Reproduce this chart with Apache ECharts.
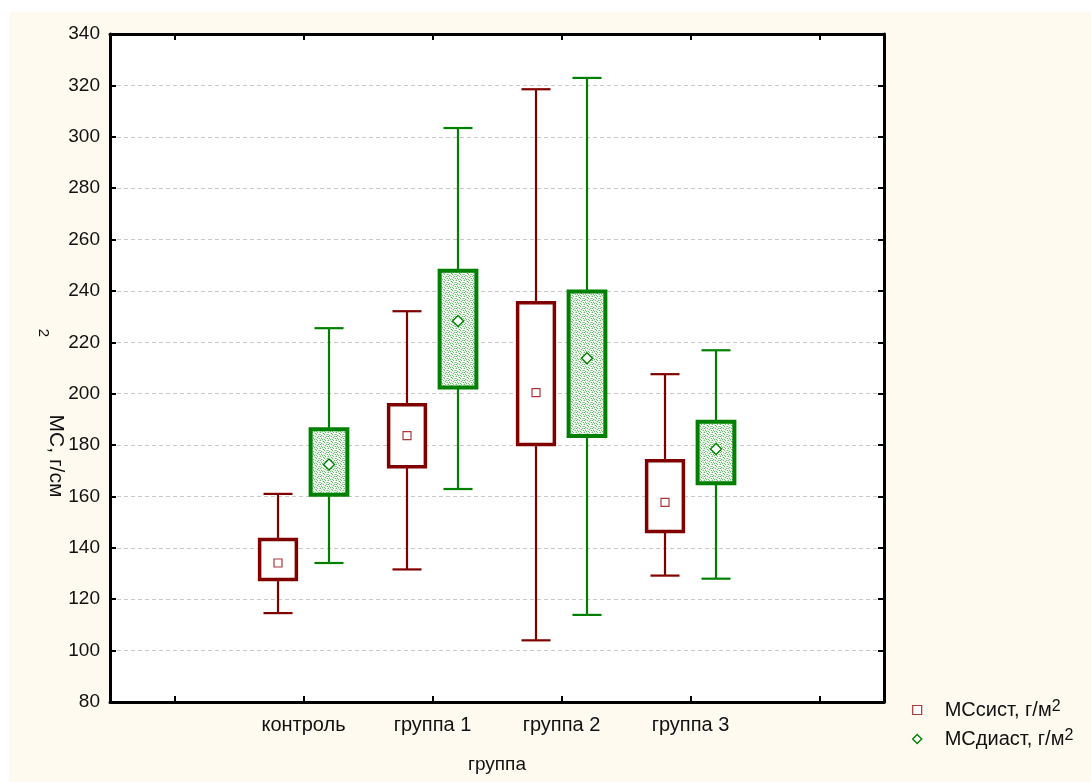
<!DOCTYPE html>
<html>
<head>
<meta charset="utf-8">
<script src="https://cdn.jsdelivr.net/npm/echarts@6/dist/echarts.min.js"></script>
<style>
  html, body { margin: 0; padding: 0; background: #ffffff; }
  #wrap { position: relative; width: 1091px; height: 782px; background: #ffffff; overflow: hidden; }
  #bg { position: absolute; left: 9px; top: 12px; right: 0; bottom: 0; background: #fffaf0; }
  #chart { position: absolute; left: 0; top: 0; width: 1091px; height: 782px; }
</style>
</head>
<body>
<div id="wrap"><div id="bg"></div><div id="chart"></div></div>
<script>
// Groups along the x axis
const groups = ['контроль', 'группа 1', 'группа 2', 'группа 3'];

// Each row: [lower whisker, box bottom, centre point, box top, upper whisker]
const msSyst = [
  [114.6, 127.7, 134.1, 143.2, 161.0],
  [131.6, 171.6, 183.7, 195.7, 232.1],
  [104.0, 180.2, 200.4, 235.4, 318.5],
  [129.2, 146.4, 157.7, 173.9, 207.6]
];
const msDiast = [
  [134.1, 160.7, 172.4, 186.2, 225.5],
  [162.9, 202.4, 228.3, 247.9, 303.4],
  [113.9, 183.5, 213.8, 239.8, 322.9],
  [128.0, 165.1, 178.5, 189.1, 216.9]
];

const seriesNames = ['МСсист, г/м', 'МСдиаст, г/м'];
const yTicks = { min: 80, max: 340, step: 20 };

const FONT = '"Liberation Sans", Arial, sans-serif';
const RED = '#800000';
const GREEN = '#008000';

// Axis categories: an empty slot on each side of the four groups
const axisCats = [''].concat(groups, ['']);

// Stippled light-green fill for the diastolic boxes
function makeDither() {
  const tile = [
    'GWLWWGWL',
    'WLWGLWWW',
    'LWWWGWLG',
    'WGLWWLWW',
    'GWWGWWGL',
    'WLWWLGWW',
    'WGWLWWLG',
    'LWGWGWWW'
  ];
  const cols = { G: '#6cbb6c', L: '#bde0bd', W: '#f7fbf7' };
  const c = document.createElement('canvas');
  c.width = 8; c.height = 8;
  const ctx = c.getContext('2d');
  tile.forEach((row, y) => row.split('').forEach((k, x) => { ctx.fillStyle = cols[k]; ctx.fillRect(x, y, 1, 1); }));
  return c;
}
const dither = makeDither();

function toItems(rows) {
  return rows.map((r, i) => [i + 1].concat(r));
}

function boxRenderer(side, color, boxFill, marker, boxLine) {
  return function (params, api) {
    const cat = api.value(0);
    const lo = api.value(1), q1 = api.value(2), mid = api.value(3), q3 = api.value(4), hi = api.value(5);
    const band = api.size([1, 0])[0];
    const cx = Math.round(api.coord([cat, mid])[0] + side * 0.2 * band);
    const yLo = api.coord([cat, lo])[1];
    const yQ1 = api.coord([cat, q1])[1];
    const yMid = api.coord([cat, mid])[1];
    const yQ3 = api.coord([cat, q3])[1];
    const yHi = api.coord([cat, hi])[1];
    const bw = 0.285 * band;
    const cw = 0.225 * band;
    const kids = [
      { type: 'line', shape: { x1: cx, y1: yHi, x2: cx, y2: yLo }, style: { stroke: color, lineWidth: 2.2 } },
      { type: 'line', shape: { x1: cx - cw / 2, y1: yHi, x2: cx + cw / 2, y2: yHi }, style: { stroke: color, lineWidth: 2.2 } },
      { type: 'line', shape: { x1: cx - cw / 2, y1: yLo, x2: cx + cw / 2, y2: yLo }, style: { stroke: color, lineWidth: 2.2 } },
      { type: 'rect', shape: { x: cx - bw / 2, y: yQ3, width: bw, height: yQ1 - yQ3 },
        style: { fill: boxFill, stroke: color, lineWidth: boxLine } }
    ];
    if (marker === 'square') {
      kids.push({ type: 'rect', shape: { x: cx - 4, y: yMid - 4, width: 8, height: 8 },
        style: { fill: '#ffffff', stroke: '#a83a3a', lineWidth: 1.2 } });
    } else {
      kids.push({ type: 'polygon', shape: { points: [[cx, yMid - 5.5], [cx + 5.5, yMid], [cx, yMid + 5.5], [cx - 5.5, yMid]] },
        style: { fill: '#ffffff', stroke: GREEN, lineWidth: 1.4 } });
    }
    return { type: 'group', children: kids };
  };
}

const chart = echarts.init(document.getElementById('chart'), null, { renderer: 'canvas' });

const axisLine = { show: true, onZero: false, lineStyle: { color: '#000', width: 3 } };
const tickStyle = { show: true, inside: true, length: 6, lineStyle: { color: '#000', width: 2 } };

const option = {
  backgroundColor: 'transparent',
  animation: false,
  grid: { left: 110, right: 207, top: 34, bottom: 80, show: true, backgroundColor: '#ffffff', borderWidth: 0 },
  xAxis: [
    {
      type: 'category', data: axisCats, position: 'bottom', boundaryGap: true,
      axisLine: axisLine,
      axisTick: Object.assign({}, tickStyle, { alignWithLabel: true, interval: 0 }),
      axisLabel: { interval: 0, fontSize: 20, color: '#111', fontFamily: FONT, margin: 13 },
      splitLine: { show: false },
      name: 'группа', nameLocation: 'middle', nameGap: 53,
      nameTextStyle: { fontSize: 19, color: '#111', fontFamily: FONT }
    },
    {
      type: 'category', data: axisCats, position: 'top', boundaryGap: true,
      axisLine: axisLine,
      axisTick: Object.assign({}, tickStyle, { alignWithLabel: true, interval: 0 }),
      axisLabel: { show: false },
      splitLine: { show: false }
    }
  ],
  yAxis: [
    {
      type: 'value', position: 'left', min: yTicks.min, max: yTicks.max, interval: yTicks.step,
      axisLine: axisLine, axisTick: tickStyle,
      axisLabel: { fontSize: 19, color: '#111', fontFamily: FONT, margin: 10 },
      splitLine: { show: true, lineStyle: { color: '#c8c8c8', width: 1, type: [4, 3] } }
    },
    {
      type: 'value', position: 'right', min: yTicks.min, max: yTicks.max, interval: yTicks.step,
      axisLine: axisLine, axisTick: tickStyle,
      axisLabel: { show: false },
      splitLine: { show: false }
    }
  ],
  legend: {
    orient: 'vertical', left: 907, top: 694,
    itemWidth: 9, itemHeight: 9, itemGap: 8,
    selectedMode: false,
    data: [
      { name: seriesNames[0], icon: 'rect', itemStyle: { color: '#ffffff', borderColor: '#a83a3a', borderWidth: 1.2 } },
      { name: seriesNames[1], icon: 'diamond', itemStyle: { color: '#ffffff', borderColor: GREEN, borderWidth: 1.4 } }
    ],
    formatter: function (n) { return '{t|' + n + '}{s|2}'; },
    textStyle: {
      padding: [0, 0, 0, 18],
      rich: {
        t: { fontSize: 20, color: '#111', fontFamily: FONT, lineHeight: 22 },
        s: { fontSize: 16, color: '#111', fontFamily: FONT, lineHeight: 12, verticalAlign: 'top' }
      }
    }
  },
  graphic: [
    { type: 'text', x: 56, y: 456, rotation: -Math.PI / 2,
      style: { text: 'МС, г/см', fontSize: 21, fontFamily: FONT, fill: '#111', align: 'center', verticalAlign: 'middle' } },
    { type: 'text', x: 43, y: 333, rotation: -Math.PI / 2,
      style: { text: '2', fontSize: 15, fontFamily: FONT, fill: '#111', align: 'center', verticalAlign: 'middle' } }
  ],
  series: [
    {
      name: seriesNames[0], type: 'custom', xAxisIndex: 0, yAxisIndex: 0,
      itemStyle: { color: RED },
      renderItem: boxRenderer(-1, RED, '#ffffff', 'square', 3.5),
      encode: { x: 0, y: [1, 2, 3, 4, 5] },
      data: toItems(msSyst), z: 3
    },
    {
      name: seriesNames[1], type: 'custom', xAxisIndex: 0, yAxisIndex: 0,
      itemStyle: { color: GREEN },
      renderItem: boxRenderer(1, GREEN, { image: dither, repeat: 'repeat' }, 'diamond', 4),
      encode: { x: 0, y: [1, 2, 3, 4, 5] },
      data: toItems(msDiast), z: 3
    }
  ]
};

chart.setOption(option);
</script>
</body>
</html>
